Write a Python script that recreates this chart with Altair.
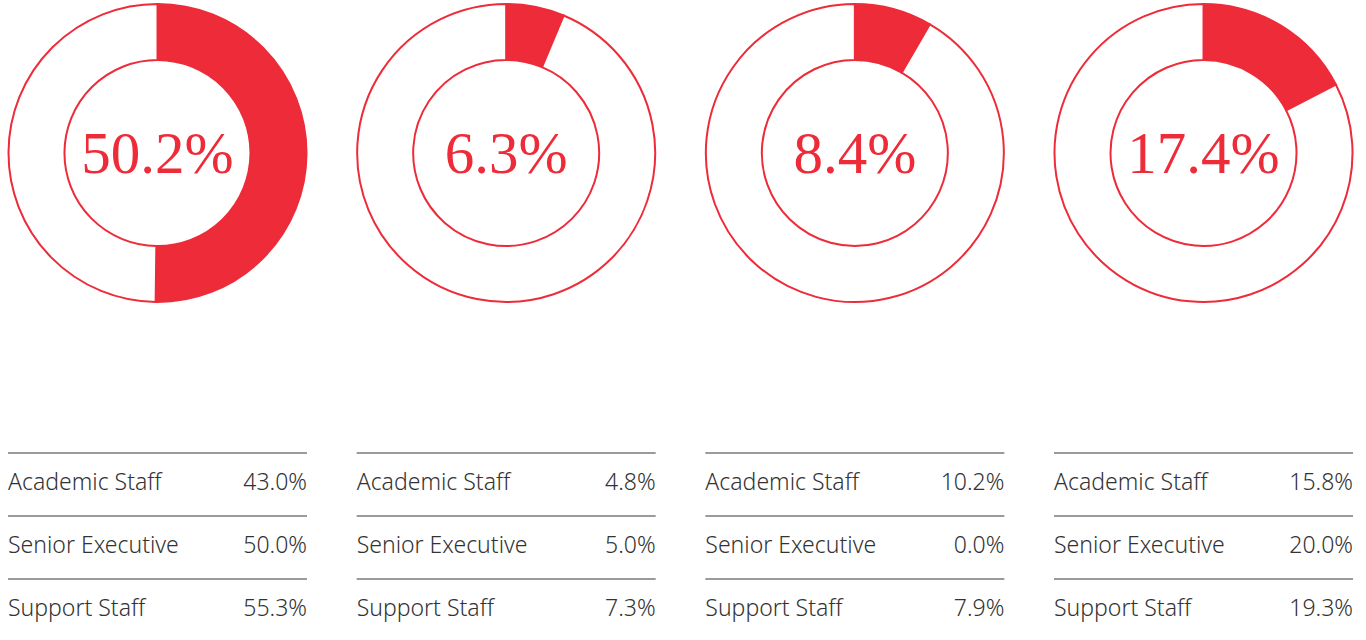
import altair as alt
import pandas as pd

# ---- data ----
overall = [50.2, 6.3, 8.4, 17.4]
categories = ["Academic Staff", "Senior Executive", "Support Staff"]
academic = [43.0, 4.8, 10.2, 15.8]
senior = [50.0, 5.0, 0.0, 20.0]
support = [55.3, 7.3, 7.9, 19.3]

RED = "#EE2B39"
GREY_TEXT = "#333333"
N = len(overall)
STRIDE = 348.67
PANEL_FRAC = 299 / STRIDE  # panel width as fraction of panel stride

# arc table (filled share, then the remainder of the ring)
arc_rows = []
for i, total in enumerate(overall):
    arc_rows.append({"panel": i, "cx": i + PANEL_FRAC / 2, "seg": "filled", "t0": 0.0, "t1": total})
    arc_rows.append({"panel": i, "cx": i + PANEL_FRAC / 2, "seg": "rest", "t0": total, "t1": 100.0})
arc_df = pd.DataFrame(arc_rows)

center_df = pd.DataFrame({
    "cx": [i + PANEL_FRAC / 2 for i in range(N)],
    "t": [f"{v:.1f}%" for v in overall],
})

table_rows = []
for i in range(N):
    vals = [academic[i], senior[i], support[i]]
    for r, (lab, v) in enumerate(zip(categories, vals)):
        table_rows.append({
            "x0": i, "x1": i + PANEL_FRAC, "row": r, "mid": r + 0.5,
            "label": lab, "val": f"{v:.1f}%",
        })
table_df = pd.DataFrame(table_rows)

xscale = alt.Scale(domain=[0, N], range=[8, 8 + STRIDE * N])
yscale = alt.Scale(domain=[0, 3], range=[453, 642])
tscale = alt.Scale(domain=[0, 100], range=[0, 6.283185307179586])

arcs = alt.Chart(arc_df).mark_arc(
    outerRadius=149, innerRadius=93, stroke=RED, strokeWidth=2
).encode(
    x=alt.X("cx:Q", scale=xscale, axis=None, stack=False),
    y=alt.value(153),
    theta=alt.Theta("t0:Q", scale=tscale, stack=False),
    theta2="t1:Q",
    color=alt.Color("seg:N", scale=alt.Scale(domain=["filled", "rest"], range=[RED, "#ffffff"]), legend=None),
)

center = alt.Chart(center_df).mark_text(
    font="Liberation Serif", fontSize=59, color=RED, align="center", baseline="middle"
).encode(
    x=alt.X("cx:Q", scale=xscale, axis=None),
    y=alt.value(155),
    text="t:N",
)

rules = alt.Chart(table_df).mark_rule(color="#7a7a7a", strokeWidth=1.5).encode(
    x=alt.X("x0:Q", scale=xscale, axis=None),
    x2="x1:Q",
    y=alt.Y("row:Q", scale=yscale, axis=None),
)

labels = alt.Chart(table_df).mark_text(
    font="Noto Sans", fontSize=23, fontWeight=300, color=GREY_TEXT, align="left", baseline="middle", dy=-2
).encode(
    x=alt.X("x0:Q", scale=xscale, axis=None),
    y=alt.Y("mid:Q", scale=yscale, axis=None),
    text="label:N",
)

values = alt.Chart(table_df).mark_text(
    font="Noto Sans", fontSize=23, fontWeight=300, color=GREY_TEXT, align="right", baseline="middle", dy=-2
).encode(
    x=alt.X("x1:Q", scale=xscale, axis=None),
    y=alt.Y("mid:Q", scale=yscale, axis=None),
    text="val:N",
)

chart = alt.layer(rules, arcs, center, labels, values).properties(
    width=1366, height=640, padding=0,
    autosize=alt.AutoSizeParams(type="fit", contains="padding"),
).configure_view(stroke=None, strokeWidth=0)

chart.save("out.html", embed_options={"renderer": "svg", "actions": False})
